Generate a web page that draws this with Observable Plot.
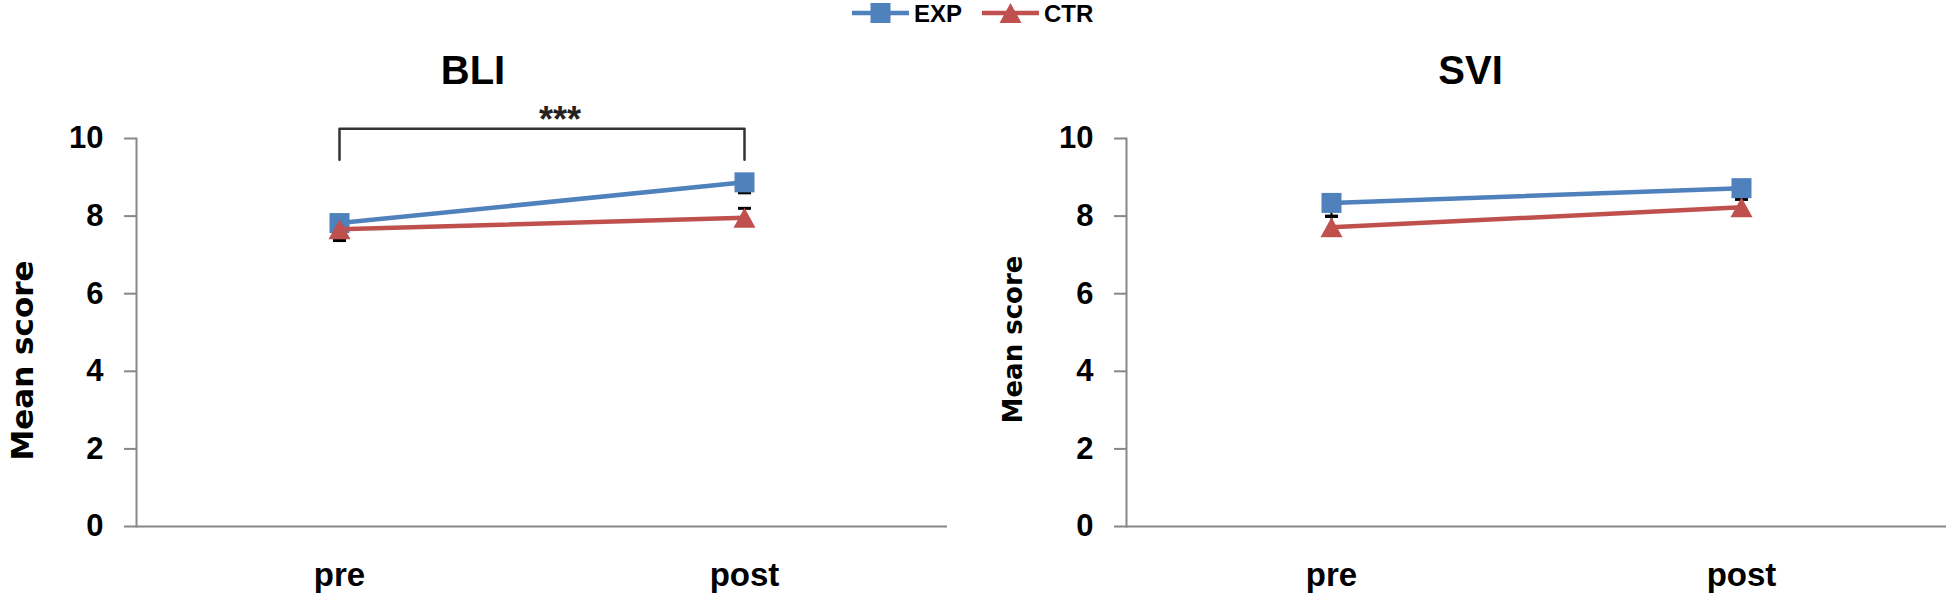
<!DOCTYPE html>
<html>
<head>
<meta charset="utf-8">
<script src="https://cdn.jsdelivr.net/npm/d3@7"></script>
<script src="https://cdn.jsdelivr.net/npm/@observablehq/plot@0.6"></script>
<style>
  html, body { margin: 0; padding: 0; background: #fff; }
  #page { width: 1946px; height: 596px; position: relative; overflow: hidden; }
  #legend { height: 30px; position: relative; }
  #panels { display: flex; flex-direction: row; }
  #panels svg { display: block; }
</style>
</head>
<body>
<div id="page">
  <div id="legend"></div>
  <div id="panels"></div>
</div>
<script>
// ---------- data ----------
const phases = ["pre", "post"];
const groups = ["EXP", "CTR"];
const groupColors = ["#4F81BD", "#C0504D"];

// means
const bliEXP = [7.82, 8.87];
const bliCTR = [7.66, 7.96];
const sviEXP = [8.34, 8.72];
const sviCTR = [7.71, 8.23];
// error bars (EXP drawn downward, CTR drawn upward, as in the source)
const bliEXPse = [0.45, 0.27];
const bliCTRse = [0.25, 0.24];
const sviEXPse = [0.34, 0.18];
const sviCTRse = [0.28, 0.20];

const yTicks = [0, 2, 4, 6, 8, 10];
const panelTitles = ["BLI", "SVI"];
const yLabelText = "Mean score";
const bracketFrom = "pre", bracketTo = "post";
const bracketY = [9.45, 10.25];
const bracketLabel = "***";

// ---------- helpers ----------
const squareSym = {draw(ctx, size) { const r = Math.sqrt(size / Math.PI); ctx.rect(-r, -r, 2 * r, 2 * r); }};
const triSym = {draw(ctx, size) { const r = Math.sqrt(size / Math.PI); ctx.moveTo(0, -r); ctx.lineTo(1.1 * r, r); ctx.lineTo(-1.1 * r, r); ctx.closePath(); }};
const capSym = {draw(ctx, size) { const r = Math.sqrt(size / Math.PI); ctx.moveTo(-r, 0); ctx.lineTo(r, 0); }};

const AXIS = "#878787";
const FONT = "'Liberation Sans', Arial, sans-serif";
const LABEL_FONT = "'DejaVu Sans', Verdana, sans-serif";

function rows(vals, se, group, dir) {
  return phases.map((p, i) => ({phase: p, v: vals[i], end: vals[i] + dir * se[i], group}));
}

function panel(opts) {
  const exp = rows(opts.exp, opts.expSe, "EXP", -1);
  const ctr = rows(opts.ctr, opts.ctrSe, "CTR", +1);
  const all = exp.concat(ctr);
  const marks = [
    Plot.ruleY([0], {stroke: AXIS, strokeWidth: 2}),
    Plot.frame({anchor: "left", stroke: AXIS, strokeWidth: 2}),
    Plot.axisY({ticks: yTicks, tickSize: 12, tickPadding: 21, stroke: AXIS, strokeWidth: 2, fill: "#000",
      fontSize: 31, fontWeight: "bold", fontFamily: FONT, label: null}),
    Plot.axisX({tickSize: 0, tickPadding: 36, fontSize: 33, fontWeight: "bold", fontFamily: FONT, fill: "#000", label: null}),
    // error bars (beneath markers)
    Plot.ruleX(all, {x: "phase", y1: "v", y2: "end", stroke: "#000", strokeWidth: 2}),
    Plot.dot(all, {x: "phase", y: "end", symbol: capSym, r: 6.5, stroke: "#000", strokeWidth: 3, fill: "none"}),
    // EXP series
    Plot.line(exp, {x: "phase", y: "v", stroke: groupColors[0], strokeWidth: 4.5}),
    Plot.dot(exp, {x: "phase", y: "v", symbol: squareSym, r: 10, fill: groupColors[0], stroke: null}),
    // CTR series
    Plot.line(ctr, {x: "phase", y: "v", stroke: groupColors[1], strokeWidth: 4.5}),
    Plot.dot(ctr, {x: "phase", y: "v", symbol: triSym, r: 10, fill: groupColors[1], stroke: null}),
    // title
    Plot.text([opts.title], {frameAnchor: "top", dx: opts.titleDx, dy: -55, lineAnchor: "bottom",
      fontSize: 40, fontWeight: "bold", fontFamily: FONT, fill: "#000"}),
    // y label
    Plot.text([yLabelText], {frameAnchor: "left", rotate: -90, dx: opts.yLabelDx, dy: opts.yLabelDy, lineAnchor: "bottom",
      textAnchor: "middle", fontSize: opts.yLabelSize, fontWeight: "bold", fontFamily: LABEL_FONT, fill: "#000"})
  ];
  if (opts.bracket) {
    const b = [
      {phase: bracketFrom, y: bracketY[0]}, {phase: bracketFrom, y: bracketY[1]},
      {phase: bracketTo, y: bracketY[1]}, {phase: bracketTo, y: bracketY[0]}
    ];
    marks.push(Plot.line(b, {x: "phase", y: "y", stroke: "#333", strokeWidth: 2.5, strokeLinejoin: "round"}));
    marks.push(Plot.text([bracketLabel], {frameAnchor: "top", dx: 18, dy: -7, lineAnchor: "bottom",
      fontSize: 36, fontWeight: "bold", fontFamily: FONT, fill: "#222"}));
  }
  return Plot.plot({
    width: opts.width, height: 566,
    marginLeft: opts.marginLeft, marginRight: opts.marginRight, marginTop: 108, marginBottom: 70,
    x: {type: "point", domain: phases, padding: 0.5, axis: null},
    y: {domain: [0, 10], axis: null},
    style: {background: "transparent", overflow: "visible", fontFamily: FONT},
    marks
  });
}

const panels = document.getElementById("panels");
panels.appendChild(panel({title: panelTitles[0], exp: bliEXP, ctr: bliCTR, expSe: bliEXPse, ctrSe: bliCTRse,
  width: 975, marginLeft: 136, marginRight: 28, titleDx: -69, yLabelDx: -104, yLabelDy: 28, yLabelSize: 31, bracket: true}));
panels.appendChild(panel({title: panelTitles[1], exp: sviEXP, ctr: sviCTR, expSe: sviEXPse, ctrSe: sviCTRse,
  width: 971, marginLeft: 151, marginRight: 0, titleDx: -66, yLabelDx: -105, yLabelDy: 7, yLabelSize: 26, bracket: false}));

// ---------- legend ----------
const ns = "http://www.w3.org/2000/svg";
const lg = document.createElementNS(ns, "svg");
lg.setAttribute("width", 1946); lg.setAttribute("height", 30);
const legendItems = [
  {label: groups[0], color: groupColors[0], shape: "square", x0: 852},
  {label: groups[1], color: groupColors[1], shape: "triangle", x0: 982}
];
legendItems.forEach(it => {
  const cy = 13;
  const line = document.createElementNS(ns, "line");
  line.setAttribute("x1", it.x0); line.setAttribute("x2", it.x0 + 57);
  line.setAttribute("y1", cy); line.setAttribute("y2", cy);
  line.setAttribute("stroke", it.color); line.setAttribute("stroke-width", 4.5);
  lg.appendChild(line);
  const cx = it.x0 + 28.5;
  if (it.shape === "square") {
    const r = document.createElementNS(ns, "rect");
    r.setAttribute("x", cx - 10); r.setAttribute("y", cy - 10); r.setAttribute("width", 20); r.setAttribute("height", 20);
    r.setAttribute("fill", it.color); lg.appendChild(r);
  } else {
    const p = document.createElementNS(ns, "path");
    p.setAttribute("d", `M${cx},${cy - 10}L${cx + 11},${cy + 10}L${cx - 11},${cy + 10}Z`);
    p.setAttribute("fill", it.color); lg.appendChild(p);
  }
  const t = document.createElementNS(ns, "text");
  t.setAttribute("x", it.x0 + 62); t.setAttribute("y", cy + 9);
  t.setAttribute("font-family", FONT); t.setAttribute("font-weight", "bold"); t.setAttribute("font-size", 24);
  t.textContent = it.label;
  lg.appendChild(t);
});
document.getElementById("legend").appendChild(lg);
</script>
</body>
</html>
